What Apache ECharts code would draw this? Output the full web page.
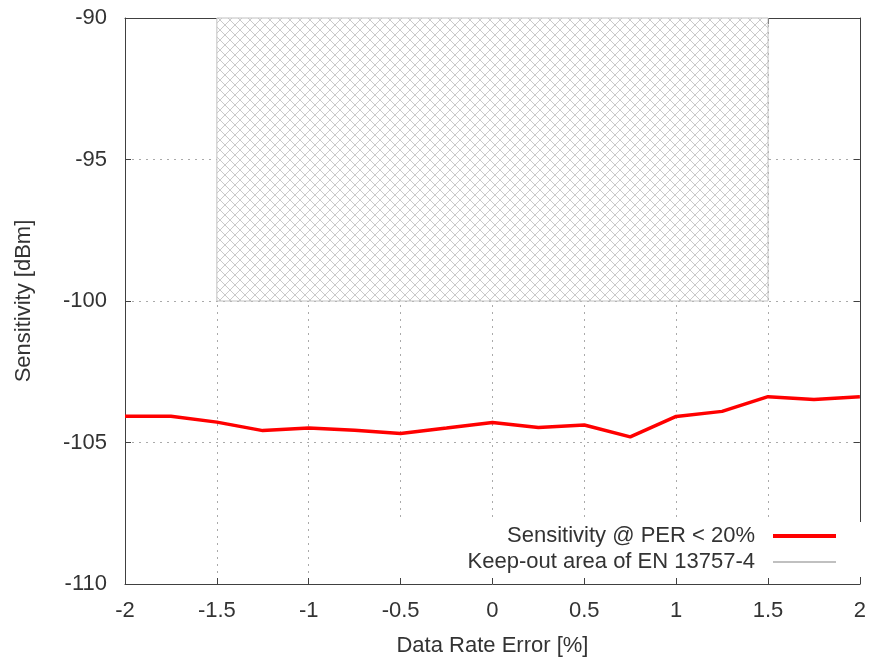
<!DOCTYPE html>
<html>
<head>
<meta charset="utf-8">
<script src="https://cdn.jsdelivr.net/npm/echarts@6/dist/echarts.min.js"></script>
<style>html,body{margin:0;padding:0;background:#fff;}#c{width:869px;height:664px;}</style>
</head>
<body>
<div id="c"></div>
<script>
const dataRateError = [-2, -1.75, -1.5, -1.25, -1, -0.75, -0.5, -0.25, 0, 0.25, 0.5, 0.75, 1, 1.25, 1.5, 1.75, 2];
const sensitivity = [-104.07, -104.07, -104.28, -104.58, -104.49, -104.57, -104.68, -104.49, -104.29, -104.47, -104.38, -104.8, -104.08, -103.9, -103.38, -103.48, -103.38];
const keepOutX = [-1.5, 1.5];
const keepOutY = [-100, -90];
const seriesNames = ['Sensitivity @ PER < 20%', 'Keep-out area of EN 13757-4'];

const FONT = "'Liberation Sans', Arial, sans-serif";
const FS = 22;

const P = 10;
const cv = document.createElement('canvas');
cv.width = P; cv.height = P;
const g = cv.getContext('2d');
g.fillStyle = '#fff'; g.fillRect(0, 0, P, P);
g.strokeStyle = '#cacaca'; g.lineWidth = 1;
g.beginPath();
g.moveTo(0, 0); g.lineTo(P, P);
g.moveTo(P, 0); g.lineTo(0, P);
g.stroke();

const chart = echarts.init(document.getElementById('c'), null, {renderer: 'canvas'});
const axisColor = '#404040';
const textStyle = {color: '#333', fontFamily: FONT, fontSize: FS};

chart.setOption({
  animation: false,
  backgroundColor: '#fff',
  grid: {left: 125, right: 6, top: 18, bottom: 80},
  graphic: [{
    type: 'rect', z: 1, silent: true,
    shape: {x: 385, y: 522, width: 477, height: 55},
    style: {fill: '#fff'}
  }],
  xAxis: [{
    type: 'value', min: -2, max: 2, interval: 0.5, position: 'bottom',
    name: 'Data Rate Error [%]', nameLocation: 'middle', nameGap: 51,
    nameTextStyle: textStyle,
    axisLine: {onZero: false, lineStyle: {color: axisColor, width: 1}},
    axisTick: {inside: true, length: 6, lineStyle: {color: axisColor}},
    axisLabel: Object.assign({margin: 16}, textStyle),
    splitLine: {show: true, lineStyle: {color: '#aaa', type: [2, 5], width: 1}}
  }, {
    type: 'value', min: -2, max: 2, interval: 0.5, position: 'top',
    axisLine: {onZero: false, lineStyle: {color: axisColor, width: 1}},
    axisTick: {inside: true, length: 6, lineStyle: {color: axisColor}},
    axisLabel: {show: false}, splitLine: {show: false}
  }],
  yAxis: [{
    type: 'value', min: -110, max: -90, interval: 5, position: 'left',
    name: 'Sensitivity [dBm]', nameLocation: 'middle', nameGap: 90,
    nameTextStyle: textStyle,
    axisLine: {show: true, onZero: false, lineStyle: {color: axisColor, width: 1}},
    axisTick: {show: true, inside: true, length: 6, lineStyle: {color: axisColor}},
    axisLabel: Object.assign({margin: 18}, textStyle),
    splitLine: {show: true, lineStyle: {color: '#aaa', type: [2, 5], width: 1}}
  }, {
    type: 'value', min: -110, max: -90, interval: 5, position: 'right',
    axisLine: {show: true, onZero: false, lineStyle: {color: axisColor, width: 1}},
    axisTick: {show: true, inside: true, length: 6, lineStyle: {color: axisColor}},
    axisLabel: {show: false}, splitLine: {show: false}
  }],
  legend: [{
    data: [{name: seriesNames[0], icon: 'rect', itemStyle: {color: '#ff0000'}}],
    orient: 'vertical', align: 'right', right: 33, top: 525, padding: 0,
    itemWidth: 63, itemHeight: 4, selectedMode: false,
    textStyle: Object.assign({padding: [0, 13, 0, 0]}, textStyle)
  }, {
    data: [{name: seriesNames[1], icon: 'rect', itemStyle: {color: '#c0c0c0'}}],
    orient: 'vertical', align: 'right', right: 33, top: 551, padding: 0,
    itemWidth: 63, itemHeight: 2, selectedMode: false,
    textStyle: Object.assign({padding: [0, 13, 0, 0]}, textStyle)
  }],
  series: [{
    name: seriesNames[1], type: 'line', data: [],
    color: '#c0c0c0',
    markArea: {
      silent: true,
      itemStyle: {color: {image: cv, repeat: 'repeat'}, borderColor: '#c0c0c0', borderWidth: 1, opacity: 1},
      emphasis: {disabled: true},
      label: {show: false},
      data: [[{coord: [keepOutX[0], keepOutY[1]]}, {coord: [keepOutX[1], keepOutY[0]]}]]
    }
  }, {
    name: seriesNames[0], type: 'line', z: 5,
    data: dataRateError.map((x, i) => [x, sensitivity[i]]),
    showSymbol: false, symbol: 'none', color: '#ff0000',
    lineStyle: {color: '#ff0000', width: 3.5}
  }]
});
</script>
</body>
</html>
